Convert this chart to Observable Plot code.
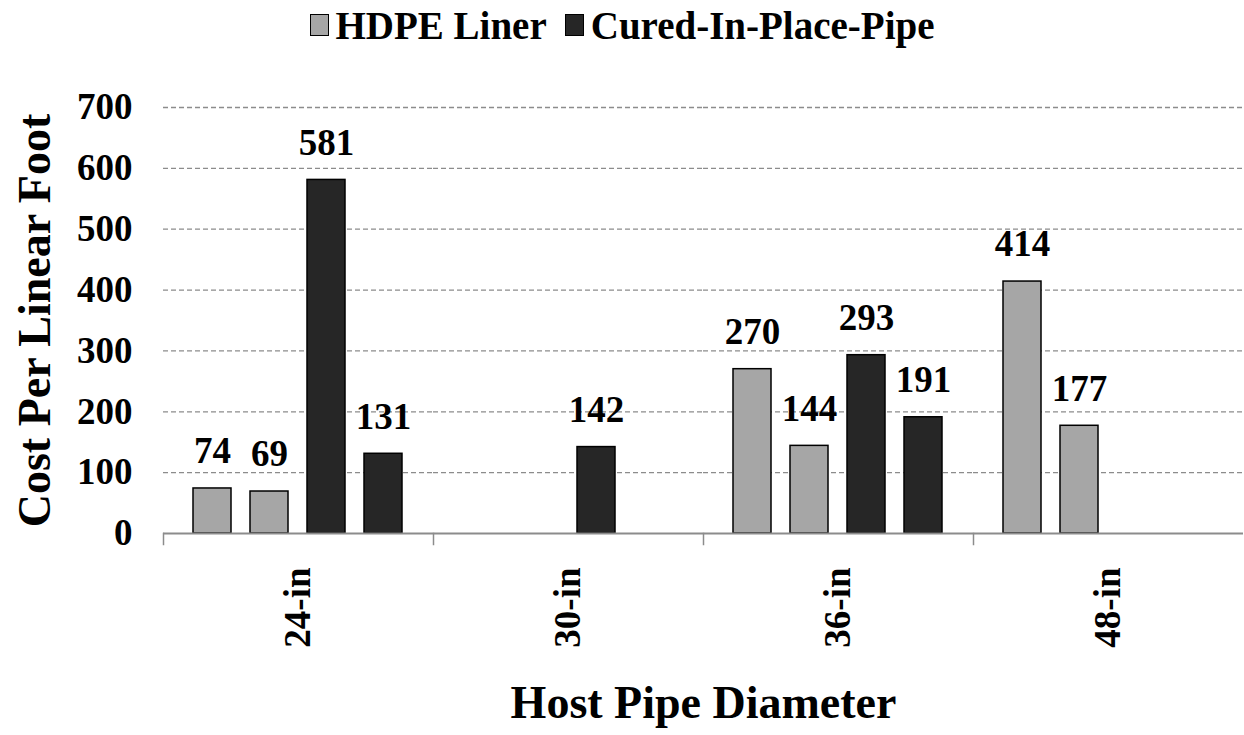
<!DOCTYPE html>
<html>
<head>
<meta charset="utf-8">
<script src="https://cdn.jsdelivr.net/npm/d3@7"></script>
<script src="https://cdn.jsdelivr.net/npm/@observablehq/plot@0.6"></script>
<style>
  html, body { margin: 0; padding: 0; background: #fff; }
  #chart { width: 1244px; height: 735px; position: relative; overflow: hidden;
           font-family: "Liberation Serif", "Times New Roman", serif; font-weight: bold; color: #000; }
  #legend { height: 50px; display: flex; justify-content: center; align-items: center; font-size: 39px; }
  .item { display: flex; align-items: center; margin: 0 9px; }
  .sw { width: 19px; height: 22px; border: 1.5px solid #000; box-sizing: border-box; margin-right: 7px; }
  svg g[aria-label="y-axis label"], svg g[aria-label="fx-axis label"] { font-size: 46px; }
</style>
</head>
<body>
<div id="chart">
  <div id="legend"></div>
  <div id="plot"></div>
</div>
<script>
// ---- data ----
const groups = ["24-in", "30-in", "36-in", "48-in"];
const slots = [0, 1, 2, 3];
const series = ["HDPE Liner", "Cured-In-Place-Pipe"];
const seriesColors = ["#a6a6a6", "#262626"];
const barGroup  = ["24-in", "24-in", "24-in", "24-in", "30-in", "36-in", "36-in", "36-in", "36-in", "48-in", "48-in"];
const barSlot   = [0, 1, 2, 3, 2, 0, 1, 2, 3, 0, 1];
const barSeries = ["HDPE Liner", "HDPE Liner", "Cured-In-Place-Pipe", "Cured-In-Place-Pipe",
                   "Cured-In-Place-Pipe",
                   "HDPE Liner", "HDPE Liner", "Cured-In-Place-Pipe", "Cured-In-Place-Pipe",
                   "HDPE Liner", "HDPE Liner"];
const barValue  = [74, 69, 581, 131, 142, 270, 144, 293, 191, 414, 177];
const yTicks = [0, 100, 200, 300, 400, 500, 600, 700];

const data = barValue.map((v, i) => ({group: barGroup[i], slot: barSlot[i], series: barSeries[i], value: v}));

// ---- legend ----
const legend = document.getElementById("legend");
series.forEach((s, i) => {
  const item = document.createElement("div");
  item.className = "item";
  const sw = document.createElement("div");
  sw.className = "sw";
  sw.style.background = seriesColors[i];
  const label = document.createElement("span");
  label.textContent = s;
  item.appendChild(sw);
  item.appendChild(label);
  legend.appendChild(item);
});

// ---- chart ----
const gridColor = "#8c8c8c";
const chart = Plot.plot({
  width: 1244,
  height: 685,
  marginTop: 57,
  marginBottom: 202,
  marginLeft: 161,
  marginRight: 0,
  style: {fontFamily: "'Liberation Serif', 'Times New Roman', serif", fontWeight: "bold", color: "#000", background: "transparent"},
  fx: {domain: groups, padding: 0},
  x: {type: "band", domain: slots, paddingInner: 0.33, paddingOuter: 0.5, axis: null},
  y: {domain: [0, 700]},
  color: {domain: series, range: seriesColors},
  marks: [
    Plot.ruleY(yTicks.filter(d => d > 0), {stroke: gridColor, strokeWidth: 1.3, strokeDasharray: "5,3"}),
    Plot.barY(data, {fx: "group", x: "slot", y: "value", fill: "series", stroke: "#000", strokeWidth: 1.5}),
    Plot.ruleY([0], {stroke: gridColor, strokeWidth: 2}),
    Plot.frame({anchor: "left", insetTop: 426, insetBottom: -11, stroke: gridColor, strokeWidth: 1.5}),
    Plot.text(data, {fx: "group", x: "slot", y: "value", text: d => String(d.value), dy: -37,
                     fontSize: 37, fontWeight: "bold", fill: "#000"}),
    Plot.axisY({ticks: yTicks, tickSize: 0, tickPadding: 31, fontSize: 37, fontWeight: "bold",
                label: "Cost Per Linear Foot", labelAnchor: "center", labelOffset: 146, labelArrow: "none"}),
    Plot.axisFx({anchor: "bottom", tickSize: 0, tickPadding: 34, tickRotate: -90, fontSize: 37, fontWeight: "bold",
                 label: "Host Pipe Diameter", labelAnchor: "center", labelOffset: 184, labelArrow: "none"})
  ]
});
document.getElementById("plot").appendChild(chart);
</script>
</body>
</html>
